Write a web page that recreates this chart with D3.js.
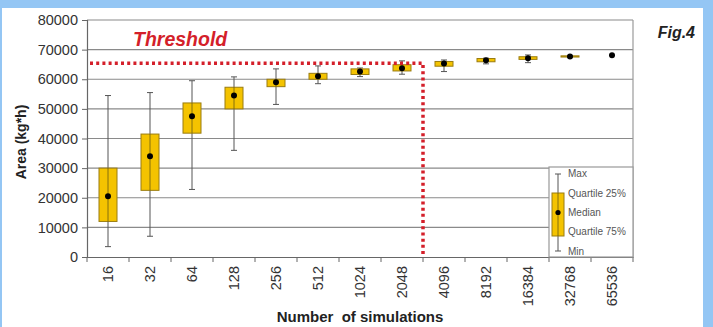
<!DOCTYPE html>
<html>
<head>
<meta charset="utf-8">
<script src="https://cdn.jsdelivr.net/npm/d3@7"></script>
<style>
  body { margin: 0; background: #94c6f4; }
  svg { display: block; font-family: "Liberation Sans", Arial, sans-serif; }
</style>
</head>
<body>
<script>
// chart values
const sims = ["16","32","64","128","256","512","1024","2048","4096","8192","16384","32768","65536"];
const vMax = [54500,55500,59500,60800,63500,64500,63800,66200,66500,67100,68200,67900,68100];
const vQ75 = [30000,41500,52000,57300,60000,62000,63500,64900,66000,67000,67600,67900,68100];
const vMed = [20500,34000,47500,54500,59000,61000,62600,63750,65300,66400,67100,67700,68100];
const vQ25 = [12000,22500,41800,50000,57500,60000,61600,62800,64400,65900,66700,67500,68100];
const vMin = [3500,7000,22800,36000,51500,58500,60900,61700,62600,65200,65600,67400,68100];
const yTicks = [0,10000,20000,30000,40000,50000,60000,70000,80000];
const threshold = 65400;
const legendLabels = ["Max","Quartile 25%","Median","Quartile 75%","Min"];

const W = 713, H = 327;
const pLeft = 87, pRight = 633, pTop = 20, pBottom = 257;

const svg = d3.select("body").append("svg").attr("width", W).attr("height", H);
svg.append("rect").attr("x", 2).attr("y", 8).attr("width", 701).attr("height", H - 8).attr("fill", "#ffffff");

var x = d3.scaleBand().domain(sims).range([pLeft, pRight]);
var y = d3.scaleLinear().domain([0, 80000]).range([pBottom, pTop]);

// gridlines
svg.append("g").selectAll("line")
  .data(yTicks.slice(1))
  .join("line")
    .attr("x1", pLeft).attr("x2", pRight)
    .attr("y1", d => y(d)).attr("y2", d => y(d))
    .attr("stroke", "#8a8a8a").attr("stroke-width", 1.2);
svg.append("line").attr("x1", pRight).attr("x2", pRight).attr("y1", pTop).attr("y2", pBottom)
  .attr("stroke", "#9a9a9a").attr("stroke-width", 1.2);

// axes
const yAxis = svg.append("g").attr("transform", `translate(${pLeft},0)`)
  .call(d3.axisLeft(y).tickValues(yTicks).tickSize(5).tickPadding(4).tickFormat(d3.format("d")));
const xAxis = svg.append("g").attr("transform", `translate(0,${pBottom})`)
  .call(d3.axisBottom(x).tickSize(0).tickPadding(9));
[yAxis, xAxis].forEach(a => {
  a.select(".domain").attr("stroke", "#666").attr("stroke-width", 1.2);
  a.selectAll(".tick line").attr("stroke", "#666");
  a.selectAll("text").attr("fill", "#333").attr("font-size", 14.5);
});
xAxis.selectAll("text")
  .attr("transform", "rotate(-90)")
  .attr("text-anchor", "end")
  .attr("x", -9).attr("y", 0).attr("dy", "0.35em");
// x tick marks at category boundaries
xAxis.append("g").selectAll("line")
  .data(d3.range(sims.length + 1))
  .join("line")
    .attr("x1", i => pLeft + i * x.step()).attr("x2", i => pLeft + i * x.step())
    .attr("y1", 0).attr("y2", 5)
    .attr("stroke", "#666");

// boxes
const bw = 18;
const boxes = svg.append("g").selectAll("g")
  .data(sims.map((s, i) => ({s, max: vMax[i], q75: vQ75[i], med: vMed[i], q25: vQ25[i], min: vMin[i]})))
  .join("g")
    .attr("transform", d => `translate(${x(d.s) + x.bandwidth() / 2},0)`);
boxes.append("line").attr("y1", d => y(d.max)).attr("y2", d => y(d.min))
  .attr("stroke", "#555").attr("stroke-width", 1);
boxes.append("line").attr("x1", -3).attr("x2", 3).attr("y1", d => y(d.max)).attr("y2", d => y(d.max))
  .attr("stroke", "#555");
boxes.append("line").attr("x1", -3).attr("x2", 3).attr("y1", d => y(d.min)).attr("y2", d => y(d.min))
  .attr("stroke", "#555");
boxes.filter(d => d.q75 - d.q25 > 0).append("rect")
  .attr("x", -bw / 2).attr("width", bw)
  .attr("y", d => y(d.q75)).attr("height", d => y(d.q25) - y(d.q75))
  .attr("fill", "#f4c300").attr("stroke", "#9a7c10").attr("stroke-width", 1);
boxes.append("line").attr("y1", d => y(d.q75)).attr("y2", d => y(d.q25))
  .attr("stroke", "#6a5a10").attr("stroke-width", 0.8);
boxes.append("circle").attr("cy", d => y(d.med)).attr("r", 3).attr("fill", "#000");

// threshold
const tx = x("4096");
svg.append("path")
  .attr("d", `M${pLeft + 3},${y(threshold)} H${tx} V${pBottom}`)
  .attr("fill", "none").attr("stroke", "#d41f2a").attr("stroke-width", 3.5)
  .attr("stroke-dasharray", "3,3.2");
svg.append("text").attr("x", 133).attr("y", 46)
  .attr("font-size", 19.5).attr("font-weight", "bold").attr("font-style", "italic")
  .attr("fill", "#d41f2a").text("Threshold");

// legend
const lg = svg.append("g");
lg.append("rect").attr("x", x("32768")).attr("y", 167).attr("width", pRight - x("32768")).attr("height", pBottom - 167)
  .attr("fill", "#fff").attr("stroke", "#999").attr("stroke-width", 1.2);
const ly = d3.scalePoint().domain(legendLabels).range([174, 251]);
const lx = 558;
lg.append("line").attr("x1", lx).attr("x2", lx).attr("y1", ly("Max")).attr("y2", ly("Min")).attr("stroke", "#555");
lg.append("line").attr("x1", lx - 3).attr("x2", lx + 3).attr("y1", ly("Max")).attr("y2", ly("Max")).attr("stroke", "#555");
lg.append("line").attr("x1", lx - 3).attr("x2", lx + 3).attr("y1", ly("Min")).attr("y2", ly("Min")).attr("stroke", "#555");
lg.append("rect").attr("x", lx - 6).attr("width", 12).attr("y", 193).attr("height", 43)
  .attr("fill", "#f4c300").attr("stroke", "#9a7c10");
lg.append("line").attr("x1", lx).attr("x2", lx).attr("y1", 193).attr("y2", 236).attr("stroke", "#6a5a10").attr("stroke-width", 0.8);
lg.append("circle").attr("cx", lx).attr("cy", ly("Median")).attr("r", 2.6).attr("fill", "#000");
lg.selectAll("text.lab")
  .data(legendLabels)
  .join("text")
    .attr("class", "lab")
    .attr("x", 568).attr("y", (d, i) => [173, 193, 212, 231, 251][i]).attr("dy", "0.35em")
    .attr("font-size", 10).attr("fill", "#555").text(d => d);

// titles
svg.append("text").attr("transform", "translate(26,142) rotate(-90)")
  .attr("text-anchor", "middle").attr("font-size", 14).attr("font-weight", "bold").attr("fill", "#222")
  .text("Area (kg*h)");
svg.append("text").attr("x", 360).attr("y", 322).attr("text-anchor", "middle")
  .attr("font-size", 15).attr("font-weight", "bold").attr("fill", "#222")
  .style("white-space", "pre").text("Number  of simulations");
svg.append("text").attr("x", 695).attr("y", 38).attr("text-anchor", "end")
  .attr("font-size", 16).attr("font-weight", "bold").attr("font-style", "italic").attr("fill", "#222")
  .text("Fig.4");
</script>
</body>
</html>
